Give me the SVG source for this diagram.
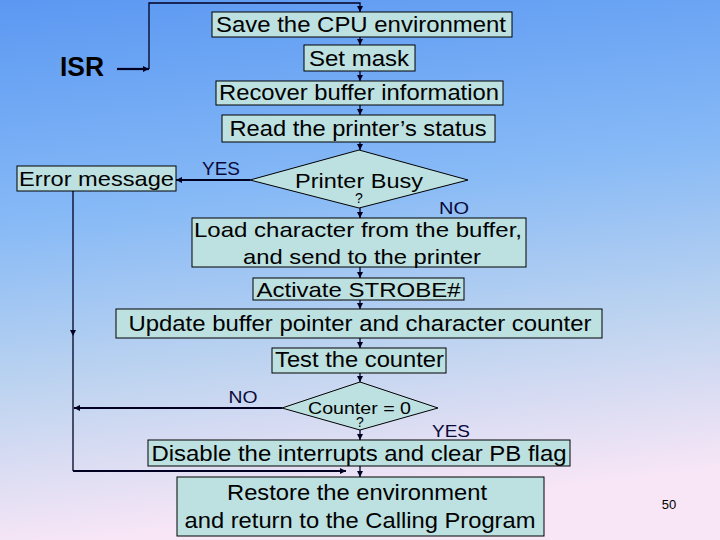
<svg xmlns="http://www.w3.org/2000/svg" width="720" height="540" viewBox="0 0 720 540">
<defs>
<linearGradient id="bg" x1="0" y1="0" x2="0.15" y2="1">
<stop offset="0" stop-color="#5b98f2"/>
<stop offset="0.4" stop-color="#86b9f6"/>
<stop offset="0.7" stop-color="#bcd3f0"/>
<stop offset="1" stop-color="#f8e6f6"/>
</linearGradient>
<marker id="ah" viewBox="0 0 10 10" refX="10" refY="5" markerWidth="7" markerHeight="6" markerUnits="userSpaceOnUse" orient="auto">
<path d="M0,0 L10,5 L0,10 z" fill="#000022"/>
</marker>
<style>
.box{fill:#bde0e1;stroke:#000;stroke-width:1}
.t{font-family:"Liberation Sans",Arial,sans-serif;fill:#000;text-anchor:middle}
.lbl{font-family:"Liberation Sans",Arial,sans-serif;fill:#0a0a3a;text-anchor:middle}
.c{fill:none;stroke:#000022;stroke-width:1.3}
.ct{fill:none;stroke:#000022;stroke-width:2.2}
</style>
</defs>
<rect x="0" y="0" width="720" height="540" fill="url(#bg)"/>

<g id="connectors">
<path class="ct" d="M117,69 H149" marker-end="url(#ah)"/>
<path class="c" d="M149,69 V3 H360 V12" marker-end="url(#ah)"/>
<path class="c" d="M360,37 V45" marker-end="url(#ah)"/>
<path class="c" d="M360,71 V81" marker-end="url(#ah)"/>
<path class="c" d="M360,105 V115" marker-end="url(#ah)"/>
<path class="c" d="M360,142 V150" marker-end="url(#ah)"/>
<path class="c" d="M360,208 V218" marker-end="url(#ah)"/>
<path class="c" d="M360,267 V278" marker-end="url(#ah)"/>
<path class="c" d="M360,300 V309" marker-end="url(#ah)"/>
<path class="c" d="M360,338 V348" marker-end="url(#ah)"/>
<path class="c" d="M360,373 V382" marker-end="url(#ah)"/>
<path class="c" d="M360,430 V440" marker-end="url(#ah)"/>
<path class="c" d="M360,466 V477" marker-end="url(#ah)"/>
<path class="ct" d="M250,180 H176" marker-end="url(#ah)"/>
<path class="c" d="M73,191 V336" marker-end="url(#ah)"/>
<path class="c" d="M73,336 V471"/>
<path class="ct" d="M73,471 H346" marker-end="url(#ah)"/>
<path class="ct" d="M282,408 H74" marker-end="url(#ah)"/>
<text class="lbl" x="221" y="175" font-size="18" textLength="38" lengthAdjust="spacingAndGlyphs">YES</text>
<text class="lbl" x="454" y="214" font-size="17" textLength="30" lengthAdjust="spacingAndGlyphs">NO</text>
<text class="lbl" x="243" y="403" font-size="17" textLength="29" lengthAdjust="spacingAndGlyphs">NO</text>
<text class="lbl" x="451" y="437" font-size="17" textLength="38" lengthAdjust="spacingAndGlyphs">YES</text>
</g>

<g id="isr">
<text x="60" y="76" font-family="Liberation Sans,Arial,sans-serif" font-weight="bold" font-size="27" fill="#000" textLength="44" lengthAdjust="spacingAndGlyphs">ISR</text>
</g>

<g id="save">
<rect class="box" x="212" y="12" width="300" height="25"/>
<text class="t" x="361" y="32" font-size="22" textLength="290" lengthAdjust="spacingAndGlyphs">Save the CPU environment</text>
</g>
<g id="mask">
<rect class="box" x="304" y="45" width="111" height="26"/>
<text class="t" x="359" y="66" font-size="22" textLength="100" lengthAdjust="spacingAndGlyphs">Set mask</text>
</g>
<g id="recover">
<rect class="box" x="216" y="81" width="287" height="24"/>
<text class="t" x="359" y="100" font-size="22" textLength="280" lengthAdjust="spacingAndGlyphs">Recover buffer information</text>
</g>
<g id="read">
<rect class="box" x="222" y="115" width="273" height="27"/>
<text class="t" x="358" y="136" font-size="22" textLength="257" lengthAdjust="spacingAndGlyphs">Read the printer’s status</text>
</g>
<g id="busy">
<polygon class="box" points="250,180 359,150 468,180 359,208"/>
<text class="t" x="359" y="188" font-size="21" textLength="128" lengthAdjust="spacingAndGlyphs">Printer Busy</text>
<text class="t" x="359" y="203" font-size="14">?</text>
</g>
<g id="error">
<rect class="box" x="17" y="166" width="159" height="25"/>
<text class="t" x="96.5" y="186" font-size="21" textLength="155" lengthAdjust="spacingAndGlyphs">Error message</text>
</g>
<g id="load">
<rect class="box" x="192" y="218" width="334" height="49"/>
<text class="t" x="358" y="237" font-size="21" textLength="328" lengthAdjust="spacingAndGlyphs">Load character from the buffer,</text>
<text class="t" x="362" y="264" font-size="21" textLength="238" lengthAdjust="spacingAndGlyphs">and send to the printer</text>
</g>
<g id="strobe">
<rect class="box" x="253" y="278" width="211" height="22"/>
<text class="t" x="358.5" y="297" font-size="21" textLength="204" lengthAdjust="spacingAndGlyphs">Activate STROBE#</text>
</g>
<g id="update">
<rect class="box" x="116" y="309" width="486" height="29"/>
<text class="t" x="360" y="331" font-size="22" textLength="463" lengthAdjust="spacingAndGlyphs">Update buffer pointer and character counter</text>
</g>
<g id="test">
<rect class="box" x="272" y="348" width="174" height="25"/>
<text class="t" x="359.5" y="367" font-size="22" textLength="169" lengthAdjust="spacingAndGlyphs">Test the counter</text>
</g>
<g id="counter">
<polygon class="box" points="282,408 360,382 438,408 360,430"/>
<text class="t" x="359.5" y="414" font-size="17" textLength="103" lengthAdjust="spacingAndGlyphs">Counter = 0</text>
<text class="t" x="360" y="427" font-size="14">?</text>
</g>
<g id="disable">
<rect class="box" x="148" y="440" width="422" height="26"/>
<text class="t" x="359" y="461" font-size="22" textLength="415" lengthAdjust="spacingAndGlyphs">Disable the interrupts and clear PB flag</text>
</g>
<g id="restore">
<rect class="box" x="177" y="477" width="367" height="59"/>
<text class="t" x="357" y="500" font-size="22" textLength="260" lengthAdjust="spacingAndGlyphs">Restore the environment</text>
<text class="t" x="360" y="528" font-size="22" textLength="351" lengthAdjust="spacingAndGlyphs">and return to the Calling Program</text>
</g>
<g id="page">
<text x="669" y="509" font-family="Liberation Sans,Arial,sans-serif" font-size="13" fill="#000" text-anchor="middle">50</text>
</g>
</svg>
